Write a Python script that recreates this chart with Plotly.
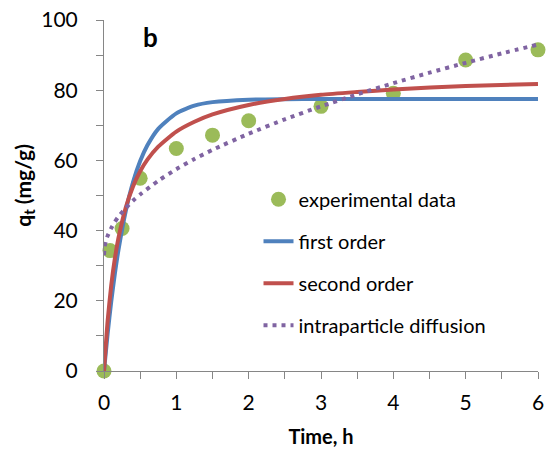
import plotly.graph_objects as go

# Experimental data
exp_t = [0, 0.083, 0.25, 0.5, 1, 1.5, 2, 3, 4, 5, 6]
exp_q = [0, 34.3, 40.6, 54.9, 63.4, 67.2, 71.3, 75.4, 79.1, 88.6, 91.5]

# Model curves
model_t = [0, 0.05, 0.1, 0.15, 0.2, 0.3, 0.4, 0.5, 0.6, 0.75, 1, 1.25, 1.5, 2, 2.5, 3, 3.5, 4, 5, 6]
first_q = [0, 10.6, 19.8, 27.7, 34.5, 45.5, 53.7, 59.8, 64.3, 69.0, 73.4, 75.6, 76.6, 77.3, 77.45, 77.5, 77.5, 77.5, 77.5, 77.5]
second_q = [0, 14.2, 24.4, 32.0, 37.9, 46.5, 52.5, 56.9, 60.2, 63.9, 68.2, 71.0, 73.1, 75.8, 77.5, 78.7, 79.5, 80.2, 81.2, 81.8]

ipd_t = [0, 0.01, 0.025, 0.05, 0.1, 0.15, 0.2, 0.3, 0.4, 0.5, 0.75, 1, 1.25, 1.5, 2, 2.5, 3, 3.5, 4, 4.5, 5, 5.5, 6]
ipd_q = [33.0, 35.5, 36.9, 38.5, 40.7, 42.5, 44.0, 46.4, 48.5, 50.3, 54.2, 57.5, 60.4, 63.0, 67.6, 71.7, 75.4, 78.8, 82.0, 85.0, 87.8, 90.5, 93.0]

x_ticks = [0, 1, 2, 3, 4, 5, 6]
y_ticks = [0, 20, 40, 60, 80, 100]

FONT = "Lato"
AX = "#868686"

fig = go.Figure()
fig.add_trace(go.Scatter(x=exp_t, y=exp_q, mode="markers", name="experimental data",
                         marker=dict(color="#9BBB59", size=15), cliponaxis=False,
                         legendgroup="a"))
fig.add_trace(go.Scatter(x=model_t, y=first_q, mode="lines", name="first order",
                         line=dict(color="#4F81BD", width=4, shape="spline", smoothing=0.6),
                         legendgroup="b"))
fig.add_trace(go.Scatter(x=model_t, y=second_q, mode="lines", name="second order",
                         line=dict(color="#C0504D", width=4, shape="spline", smoothing=0.6),
                         legendgroup="c"))
fig.add_trace(go.Scatter(x=ipd_t, y=ipd_q, mode="lines", name="intraparticle diffusion",
                         line=dict(color="#8064A2", width=4, dash="4px,5px", shape="spline", smoothing=0.6),
                         legendgroup="d"))

fig.update_layout(
    width=551, height=457,
    margin=dict(l=103.5, r=13.3, t=20, b=86),
    paper_bgcolor="white", plot_bgcolor="white",
    font=dict(family=FONT, size=20, color="black"),
    showlegend=True,
    legend=dict(x=0.356, y=0.545, xanchor="left", yanchor="top",
                bgcolor="rgba(0,0,0,0)", font=dict(size=20, family=FONT),
                tracegroupgap=13, traceorder="grouped"),
    xaxis=dict(range=[0, 6], tickvals=x_ticks, ticktext=[str(v) for v in x_ticks],
               showgrid=False, zeroline=False, showline=True, linecolor=AX, linewidth=1,
               ticks="outside", ticklen=7, tickcolor=AX, ticklabelstandoff=6, automargin=False,
               minor=dict(dtick=0.5, ticks="outside", ticklen=7, tickcolor=AX, showgrid=False),
               title=dict(text="<b>Time, h</b>", font=dict(size=20, family=FONT), standoff=16),
               tickfont=dict(size=21, family=FONT)),
    yaxis=dict(range=[0, 100], tickvals=y_ticks, ticktext=[str(v) for v in y_ticks],
               showgrid=False, zeroline=False, showline=True, linecolor=AX, linewidth=1,
               ticks="outside", ticklen=7, tickcolor=AX, ticklabelstandoff=14, automargin=False,
               minor=dict(dtick=10, ticks="outside", ticklen=7, tickcolor=AX, showgrid=False),
               tickfont=dict(size=21, family=FONT)),
    annotations=[
        dict(text="<b>b</b>", x=0.107, y=0.951, xref="paper", yref="paper",
             xanchor="center", yanchor="middle",
             showarrow=False, font=dict(size=26, family=FONT)),
        dict(text="<b>q<sub>t</sub> (mg/g)</b>", x=-0.185, y=0.53, xref="paper", yref="paper",
             xanchor="center", yanchor="middle", textangle=-90,
             showarrow=False, font=dict(size=21, family=FONT)),
    ],
)

fig.write_html("out.html", config={"displayModeBar": False},
               post_script="document.body.style.margin='0';document.body.style.overflow='hidden';")
